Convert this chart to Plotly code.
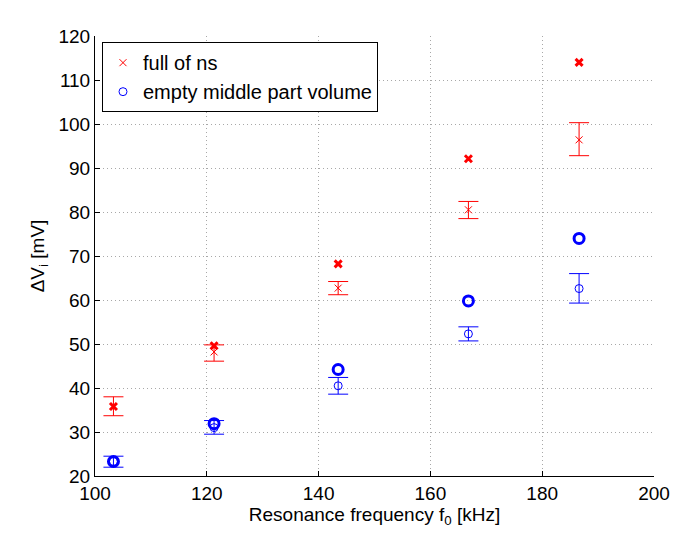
import plotly.graph_objects as go

# Data
freq = [103.3, 121.3, 143.5, 166.8, 186.6]

full_mean = [35.8, 48.2, 62.7, 80.5, 96.4]
full_err_plus = [2.2, 1.6, 1.5, 1.9, 3.9]
full_err_minus = [2.1, 2.1, 1.5, 2.0, 3.6]
full_single = [35.8, 49.6, 68.2, 92.1, 114.0]

empty_mean = [23.3, 31.0, 40.5, 52.3, 62.6]
empty_err_plus = [1.2, 1.6, 1.9, 1.6, 3.4]
empty_err_minus = [1.3, 1.5, 1.9, 1.6, 3.3]
empty_single = [23.3, 31.9, 44.2, 59.8, 74.0]

xticks = [100, 120, 140, 160, 180, 200]
yticks = [20, 30, 40, 50, 60, 70, 80, 90, 100, 110, 120]

RED = "#ff0000"
BLUE = "#0000ff"
FONT = "Liberation Sans, Arial, sans-serif"

fig = go.Figure()

fig.add_trace(go.Scatter(
    x=freq, y=full_mean, mode="markers", name="full of ns",
    marker=dict(symbol="x-thin-open", size=7, color=RED, line=dict(color=RED, width=1)),
    error_y=dict(type="data", symmetric=False, array=full_err_plus, arrayminus=full_err_minus,
                 color=RED, thickness=1, width=10),
))
fig.add_trace(go.Scatter(
    x=freq, y=empty_mean, mode="markers", name="empty middle part volume",
    marker=dict(symbol="circle-open", size=8, color=BLUE, line=dict(color=BLUE, width=1)),
    error_y=dict(type="data", symmetric=False, array=empty_err_plus, arrayminus=empty_err_minus,
                 color=BLUE, thickness=1, width=10),
))
fig.add_trace(go.Scatter(
    x=freq, y=full_single, mode="markers", showlegend=False,
    marker=dict(symbol="x-thin-open", size=7, color=RED, line=dict(color=RED, width=3)),
))
fig.add_trace(go.Scatter(
    x=freq, y=empty_single, mode="markers", showlegend=False,
    marker=dict(symbol="circle-open", size=10, color=BLUE, line=dict(color=BLUE, width=3)),
))

axis_common = dict(
    showgrid=True, gridcolor="#a8a8a8", griddash="1px,3px", gridwidth=1,
    showline=True, linecolor="black", linewidth=1, mirror=False,
    ticks="inside", ticklen=5, tickcolor="black",
    tickfont=dict(family=FONT, size=19, color="black"),
    zeroline=False, automargin=False,
)

fig.update_layout(
    width=685, height=534,
    margin=dict(l=87, r=39, t=28, b=66),
    paper_bgcolor="white", plot_bgcolor="white",
    font=dict(family=FONT, color="black"),
    showlegend=True,
    legend=dict(
        x=0.0125, y=0.986, xanchor="left", yanchor="top",
        bgcolor="white", bordercolor="black", borderwidth=1,
        font=dict(family=FONT, size=20, color="black"),
        tracegroupgap=0, itemsizing="trace",
    ),
    xaxis=dict(
        range=[100, 200], tickvals=xticks, ticktext=[str(v) for v in xticks],
        title=dict(text="Resonance frequency f<sub>0</sub> [kHz]",
                   font=dict(family=FONT, size=19), standoff=4),
        **axis_common,
    ),
    yaxis=dict(
        range=[20, 120], tickvals=yticks, ticktext=[str(v) for v in yticks],
        title=dict(text="ΔV<sub>i</sub> [mV]", font=dict(family=FONT, size=19), standoff=8),
        **axis_common,
    ),
)

fig.write_html("out.html")
